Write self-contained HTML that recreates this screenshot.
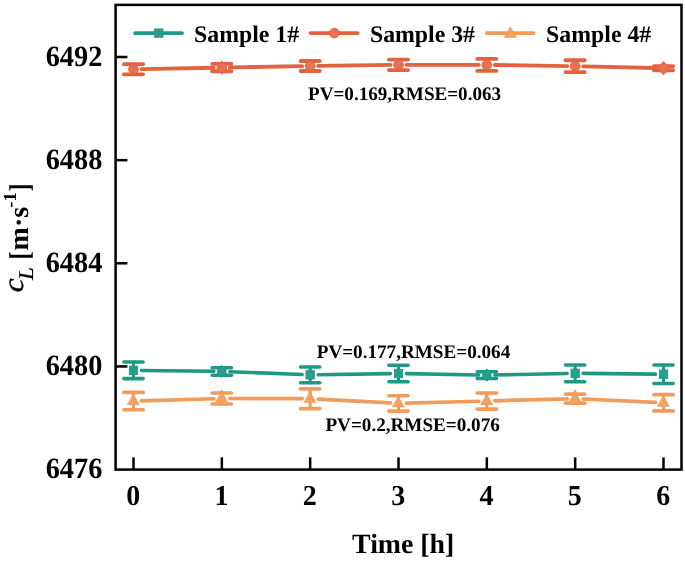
<!DOCTYPE html>
<html><head><meta charset="utf-8"><title>chart</title>
<style>
html,body{margin:0;padding:0;background:#fff;}
body{width:685px;height:561px;overflow:hidden;}
svg{display:block;}
svg{will-change:transform;}
text{text-rendering:geometricPrecision;font-family:"Liberation Serif",serif;font-weight:bold;fill:#000;}
</style></head><body>
<svg width="685" height="561" viewBox="0 0 685 561">
<rect x="0" y="0" width="685" height="561" fill="#fff"/>
<g id="orange" stroke="#f19c5a" stroke-linecap="round" fill="none">
<line x1="141.50" y1="400.86" x2="213.84" y2="398.74" stroke-width="3.7"/>
<line x1="229.83" y1="398.52" x2="302.17" y2="398.68" stroke-width="3.7"/>
<line x1="318.15" y1="399.13" x2="390.51" y2="402.97" stroke-width="3.7"/>
<line x1="406.50" y1="403.19" x2="478.83" y2="401.26" stroke-width="3.7"/>
<line x1="494.83" y1="400.83" x2="567.17" y2="398.82" stroke-width="3.7"/>
<line x1="583.16" y1="398.98" x2="655.51" y2="402.42" stroke-width="3.7"/>
<line x1="133.50" y1="392.45" x2="133.50" y2="409.75" stroke-width="3"/>
<line x1="123.90" y1="392.45" x2="143.10" y2="392.45" stroke-width="3.7"/>
<line x1="123.90" y1="409.75" x2="143.10" y2="409.75" stroke-width="3.7"/>
<line x1="133.50" y1="393.90" x2="133.50" y2="405.10" stroke-width="2.6"/>
<polygon points="133.50,394.60 139.20,404.60 127.80,404.60" fill="#f4a261" stroke="#f19c5a" stroke-width="0.9" stroke-linejoin="miter"/>
<line x1="221.83" y1="393.00" x2="221.83" y2="404.00" stroke-width="3"/>
<line x1="212.23" y1="393.00" x2="231.43" y2="393.00" stroke-width="3.7"/>
<line x1="212.23" y1="404.00" x2="231.43" y2="404.00" stroke-width="3.7"/>
<line x1="221.83" y1="391.30" x2="221.83" y2="402.50" stroke-width="2.6"/>
<polygon points="221.83,392.00 227.53,402.00 216.13,402.00" fill="#f4a261" stroke="#f19c5a" stroke-width="0.9" stroke-linejoin="miter"/>
<line x1="310.17" y1="388.85" x2="310.17" y2="408.55" stroke-width="3"/>
<line x1="300.57" y1="388.85" x2="319.77" y2="388.85" stroke-width="3.7"/>
<line x1="300.57" y1="408.55" x2="319.77" y2="408.55" stroke-width="3.7"/>
<line x1="310.17" y1="391.50" x2="310.17" y2="402.70" stroke-width="2.6"/>
<polygon points="310.17,392.20 315.87,402.20 304.47,402.20" fill="#f4a261" stroke="#f19c5a" stroke-width="0.9" stroke-linejoin="miter"/>
<line x1="398.50" y1="395.75" x2="398.50" y2="411.05" stroke-width="3"/>
<line x1="388.90" y1="395.75" x2="408.10" y2="395.75" stroke-width="3.7"/>
<line x1="388.90" y1="411.05" x2="408.10" y2="411.05" stroke-width="3.7"/>
<line x1="398.50" y1="396.20" x2="398.50" y2="407.40" stroke-width="2.6"/>
<polygon points="398.50,396.90 404.20,406.90 392.80,406.90" fill="#f4a261" stroke="#f19c5a" stroke-width="0.9" stroke-linejoin="miter"/>
<line x1="486.83" y1="393.00" x2="486.83" y2="409.10" stroke-width="3"/>
<line x1="477.23" y1="393.00" x2="496.43" y2="393.00" stroke-width="3.7"/>
<line x1="477.23" y1="409.10" x2="496.43" y2="409.10" stroke-width="3.7"/>
<line x1="486.83" y1="393.85" x2="486.83" y2="405.05" stroke-width="2.6"/>
<polygon points="486.83,394.55 492.53,404.55 481.13,404.55" fill="#f4a261" stroke="#f19c5a" stroke-width="0.9" stroke-linejoin="miter"/>
<line x1="575.16" y1="394.10" x2="575.16" y2="403.10" stroke-width="3"/>
<line x1="565.56" y1="394.10" x2="584.76" y2="394.10" stroke-width="3.7"/>
<line x1="565.56" y1="403.10" x2="584.76" y2="403.10" stroke-width="3.7"/>
<line x1="575.16" y1="391.40" x2="575.16" y2="402.60" stroke-width="2.6"/>
<polygon points="575.16,392.10 580.87,402.10 569.46,402.10" fill="#f4a261" stroke="#f19c5a" stroke-width="0.9" stroke-linejoin="miter"/>
<line x1="663.50" y1="394.70" x2="663.50" y2="410.90" stroke-width="3"/>
<line x1="653.90" y1="394.70" x2="673.10" y2="394.70" stroke-width="3.7"/>
<line x1="653.90" y1="410.90" x2="673.10" y2="410.90" stroke-width="3.7"/>
<line x1="663.50" y1="395.60" x2="663.50" y2="406.80" stroke-width="2.6"/>
<polygon points="663.50,396.30 669.20,406.30 657.80,406.30" fill="#f4a261" stroke="#f19c5a" stroke-width="0.9" stroke-linejoin="miter"/>
</g>
<g id="teal" stroke="#1f9884" stroke-linecap="round" fill="none">
<line x1="141.50" y1="370.40" x2="213.83" y2="371.30" stroke-width="3.55"/>
<line x1="229.83" y1="371.71" x2="302.17" y2="374.49" stroke-width="3.55"/>
<line x1="318.17" y1="374.68" x2="390.50" y2="373.62" stroke-width="3.55"/>
<line x1="406.50" y1="373.64" x2="478.83" y2="374.96" stroke-width="3.55"/>
<line x1="494.83" y1="374.94" x2="567.17" y2="373.46" stroke-width="3.55"/>
<line x1="583.16" y1="373.38" x2="655.50" y2="374.12" stroke-width="3.55"/>
<line x1="133.50" y1="362.00" x2="133.50" y2="378.60" stroke-width="3"/>
<line x1="123.90" y1="362.00" x2="143.10" y2="362.00" stroke-width="3.55"/>
<line x1="123.90" y1="378.60" x2="143.10" y2="378.60" stroke-width="3.55"/>
<line x1="133.50" y1="365.50" x2="133.50" y2="375.10" stroke-width="2.6"/>
<rect x="129.35" y="366.15" width="8.30" height="8.30" fill="#2a9d8c" stroke="#1f9884" stroke-width="0.9"/>
<line x1="221.83" y1="367.65" x2="221.83" y2="375.15" stroke-width="3"/>
<line x1="212.23" y1="367.65" x2="231.43" y2="367.65" stroke-width="3.55"/>
<line x1="212.23" y1="375.15" x2="231.43" y2="375.15" stroke-width="3.55"/>
<line x1="221.83" y1="366.60" x2="221.83" y2="376.20" stroke-width="2.6"/>
<rect x="217.68" y="367.25" width="8.30" height="8.30" fill="#2a9d8c" stroke="#1f9884" stroke-width="0.9"/>
<line x1="310.17" y1="366.90" x2="310.17" y2="382.70" stroke-width="3"/>
<line x1="300.57" y1="366.90" x2="319.77" y2="366.90" stroke-width="3.55"/>
<line x1="300.57" y1="382.70" x2="319.77" y2="382.70" stroke-width="3.55"/>
<line x1="310.17" y1="370.00" x2="310.17" y2="379.60" stroke-width="2.6"/>
<rect x="306.02" y="370.65" width="8.30" height="8.30" fill="#2a9d8c" stroke="#1f9884" stroke-width="0.9"/>
<line x1="398.50" y1="365.25" x2="398.50" y2="381.75" stroke-width="3"/>
<line x1="388.90" y1="365.25" x2="408.10" y2="365.25" stroke-width="3.55"/>
<line x1="388.90" y1="381.75" x2="408.10" y2="381.75" stroke-width="3.55"/>
<line x1="398.50" y1="368.70" x2="398.50" y2="378.30" stroke-width="2.6"/>
<rect x="394.35" y="369.35" width="8.30" height="8.30" fill="#2a9d8c" stroke="#1f9884" stroke-width="0.9"/>
<line x1="486.83" y1="371.70" x2="486.83" y2="378.50" stroke-width="3"/>
<line x1="477.23" y1="371.70" x2="496.43" y2="371.70" stroke-width="3.55"/>
<line x1="477.23" y1="378.50" x2="496.43" y2="378.50" stroke-width="3.55"/>
<line x1="486.83" y1="370.30" x2="486.83" y2="379.90" stroke-width="2.6"/>
<rect x="482.68" y="370.95" width="8.30" height="8.30" fill="#2a9d8c" stroke="#1f9884" stroke-width="0.9"/>
<line x1="575.16" y1="364.95" x2="575.16" y2="381.65" stroke-width="3"/>
<line x1="565.56" y1="364.95" x2="584.76" y2="364.95" stroke-width="3.55"/>
<line x1="565.56" y1="381.65" x2="584.76" y2="381.65" stroke-width="3.55"/>
<line x1="575.16" y1="368.50" x2="575.16" y2="378.10" stroke-width="2.6"/>
<rect x="571.01" y="369.15" width="8.30" height="8.30" fill="#2a9d8c" stroke="#1f9884" stroke-width="0.9"/>
<line x1="663.50" y1="364.90" x2="663.50" y2="383.50" stroke-width="3"/>
<line x1="653.90" y1="364.90" x2="673.10" y2="364.90" stroke-width="3.55"/>
<line x1="653.90" y1="383.50" x2="673.10" y2="383.50" stroke-width="3.55"/>
<line x1="663.50" y1="369.40" x2="663.50" y2="379.00" stroke-width="2.6"/>
<rect x="659.35" y="370.05" width="8.30" height="8.30" fill="#2a9d8c" stroke="#1f9884" stroke-width="0.9"/>
</g>
<g id="red" stroke="#e3633f" stroke-linecap="round" fill="none">
<line x1="141.50" y1="69.12" x2="213.83" y2="67.75" stroke-width="3.8"/>
<line x1="229.83" y1="67.46" x2="302.17" y2="66.14" stroke-width="3.8"/>
<line x1="318.17" y1="65.90" x2="390.50" y2="64.95" stroke-width="3.8"/>
<line x1="406.50" y1="64.85" x2="478.83" y2="64.90" stroke-width="3.8"/>
<line x1="494.83" y1="65.01" x2="567.17" y2="66.04" stroke-width="3.8"/>
<line x1="583.16" y1="66.34" x2="655.50" y2="68.01" stroke-width="3.8"/>
<line x1="133.50" y1="64.22" x2="133.50" y2="74.32" stroke-width="3"/>
<line x1="123.90" y1="64.22" x2="143.10" y2="64.22" stroke-width="3.8"/>
<line x1="123.90" y1="74.32" x2="143.10" y2="74.32" stroke-width="3.8"/>
<line x1="133.50" y1="63.87" x2="133.50" y2="74.67" stroke-width="2.6"/>
<circle cx="133.50" cy="69.27" r="4.9" fill="#e77152" stroke="#e3633f" stroke-width="0.9"/>
<line x1="221.83" y1="63.95" x2="221.83" y2="71.25" stroke-width="3"/>
<line x1="212.23" y1="63.95" x2="231.43" y2="63.95" stroke-width="3.8"/>
<line x1="212.23" y1="71.25" x2="231.43" y2="71.25" stroke-width="3.8"/>
<line x1="221.83" y1="62.20" x2="221.83" y2="73.00" stroke-width="2.6"/>
<circle cx="221.83" cy="67.60" r="4.9" fill="#e77152" stroke="#e3633f" stroke-width="0.9"/>
<line x1="310.17" y1="61.00" x2="310.17" y2="71.00" stroke-width="3"/>
<line x1="300.57" y1="61.00" x2="319.77" y2="61.00" stroke-width="3.8"/>
<line x1="300.57" y1="71.00" x2="319.77" y2="71.00" stroke-width="3.8"/>
<line x1="310.17" y1="60.60" x2="310.17" y2="71.40" stroke-width="2.6"/>
<circle cx="310.17" cy="66.00" r="4.9" fill="#e77152" stroke="#e3633f" stroke-width="0.9"/>
<line x1="398.50" y1="59.60" x2="398.50" y2="70.10" stroke-width="3"/>
<line x1="388.90" y1="59.60" x2="408.10" y2="59.60" stroke-width="3.8"/>
<line x1="388.90" y1="70.10" x2="408.10" y2="70.10" stroke-width="3.8"/>
<line x1="398.50" y1="59.45" x2="398.50" y2="70.25" stroke-width="2.6"/>
<circle cx="398.50" cy="64.85" r="4.9" fill="#e77152" stroke="#e3633f" stroke-width="0.9"/>
<line x1="486.83" y1="58.90" x2="486.83" y2="70.90" stroke-width="3"/>
<line x1="477.23" y1="58.90" x2="496.43" y2="58.90" stroke-width="3.8"/>
<line x1="477.23" y1="70.90" x2="496.43" y2="70.90" stroke-width="3.8"/>
<line x1="486.83" y1="59.50" x2="486.83" y2="70.30" stroke-width="2.6"/>
<circle cx="486.83" cy="64.90" r="4.9" fill="#e77152" stroke="#e3633f" stroke-width="0.9"/>
<line x1="575.16" y1="60.25" x2="575.16" y2="72.05" stroke-width="3"/>
<line x1="565.56" y1="60.25" x2="584.76" y2="60.25" stroke-width="3.8"/>
<line x1="565.56" y1="72.05" x2="584.76" y2="72.05" stroke-width="3.8"/>
<line x1="575.16" y1="60.75" x2="575.16" y2="71.55" stroke-width="2.6"/>
<circle cx="575.16" cy="66.15" r="4.9" fill="#e77152" stroke="#e3633f" stroke-width="0.9"/>
<line x1="663.50" y1="66.15" x2="663.50" y2="70.25" stroke-width="3"/>
<line x1="653.90" y1="66.15" x2="673.10" y2="66.15" stroke-width="3.8"/>
<line x1="653.90" y1="70.25" x2="673.10" y2="70.25" stroke-width="3.8"/>
<line x1="663.50" y1="62.80" x2="663.50" y2="73.60" stroke-width="2.6"/>
<circle cx="663.50" cy="68.20" r="4.9" fill="#e77152" stroke="#e3633f" stroke-width="0.9"/>
</g>
<rect x="115.6" y="4.9" width="565.90" height="464.70" fill="none" stroke="#000" stroke-width="2.5"/>
<g stroke="#000" stroke-width="2.5" stroke-linecap="butt">
<line x1="133.50" y1="469.6" x2="133.50" y2="457.40"/>
<line x1="221.83" y1="469.6" x2="221.83" y2="457.40"/>
<line x1="310.17" y1="469.6" x2="310.17" y2="457.40"/>
<line x1="398.50" y1="469.6" x2="398.50" y2="457.40"/>
<line x1="486.83" y1="469.6" x2="486.83" y2="457.40"/>
<line x1="575.16" y1="469.6" x2="575.16" y2="457.40"/>
<line x1="663.50" y1="469.6" x2="663.50" y2="457.40"/>
<line x1="115.6" y1="57.00" x2="127.40" y2="57.00"/>
<line x1="115.6" y1="160.15" x2="127.40" y2="160.15"/>
<line x1="115.6" y1="263.30" x2="127.40" y2="263.30"/>
<line x1="115.6" y1="366.45" x2="127.40" y2="366.45"/>
</g>
<g font-size="28px">
<text transform="translate(102.3,65.60) scale(1.012,1.05)" text-anchor="end">6492</text>
<text transform="translate(102.3,168.75) scale(1.012,1.05)" text-anchor="end">6488</text>
<text transform="translate(102.3,271.90) scale(1.012,1.05)" text-anchor="end">6484</text>
<text transform="translate(102.3,375.05) scale(1.012,1.05)" text-anchor="end">6480</text>
<text transform="translate(102.3,478.20) scale(1.012,1.05)" text-anchor="end">6476</text>
<text transform="translate(133.20,505) scale(1,1.03)" text-anchor="middle">0</text>
<text transform="translate(221.53,505) scale(1,1.03)" text-anchor="middle">1</text>
<text transform="translate(309.87,505) scale(1,1.03)" text-anchor="middle">2</text>
<text transform="translate(398.20,505) scale(1,1.03)" text-anchor="middle">3</text>
<text transform="translate(486.53,505) scale(1,1.03)" text-anchor="middle">4</text>
<text transform="translate(574.87,505) scale(1,1.03)" text-anchor="middle">5</text>
<text transform="translate(663.20,505) scale(1,1.03)" text-anchor="middle">6</text>
<text x="403.2" y="552.6" font-size="27.8px" text-anchor="middle">Time [h]</text>
</g>
<g transform="translate(0,291.7) rotate(-90)">
<text transform="translate(-0.6,22.9) scale(1.1,1)" font-size="28.6px" stroke="#000" stroke-width="0.35" style="font-style:italic;font-weight:normal">c</text>
<text transform="translate(11.8,32.7) scale(1.1,1)" font-size="21px" stroke="#000" stroke-width="0.25" style="font-style:italic;font-weight:normal">L</text>
<text transform="translate(32.3,28.8) scale(0.86,1)" font-size="28.6px">[</text>
<text x="41.32" y="27.8" font-size="28px">m·s</text>
<text x="84" y="15.6" font-size="18.5px">-1</text>
<text transform="translate(100.1,28.8) scale(0.86,1)" font-size="28.6px">]</text>
</g>
<g stroke="#1f9884" stroke-linecap="round" fill="none">
<line x1="135.10" y1="33.1" x2="182.10" y2="33.1" stroke-width="3.7"/>
<rect x="154.65" y="28.95" width="8.30" height="8.30" fill="#2a9d8c" stroke="#1f9884" stroke-width="0.9"/>
</g>
<text x="194.0" y="41.8" font-size="23.8px">Sample 1#</text>
<g stroke="#e3633f" stroke-linecap="round" fill="none">
<line x1="310.70" y1="33.1" x2="357.70" y2="33.1" stroke-width="3.7"/>
<circle cx="334.40" cy="33.10" r="4.9" fill="#e77152" stroke="#e3633f" stroke-width="0.9"/>
</g>
<text x="369.9" y="41.8" font-size="23.8px">Sample 3#</text>
<g stroke="#f19c5a" stroke-linecap="round" fill="none">
<line x1="486.80" y1="33.1" x2="533.80" y2="33.1" stroke-width="3.7"/>
<polygon points="510.50,27.30 516.20,37.30 504.80,37.30" fill="#f4a261" stroke="#f19c5a" stroke-width="0.9" stroke-linejoin="miter"/>
</g>
<text x="546.1" y="41.8" font-size="23.8px">Sample 4#</text>
<g font-size="19.15px">
<text x="308" y="99.8" font-size="19.1px">PV=0.169,RMSE=0.063</text>
<text x="316.7" y="358.1">PV=0.177,RMSE=0.064</text>
<text x="325.4" y="431.1">PV=0.2,RMSE=0.076</text>
</g>
</svg></body></html>
